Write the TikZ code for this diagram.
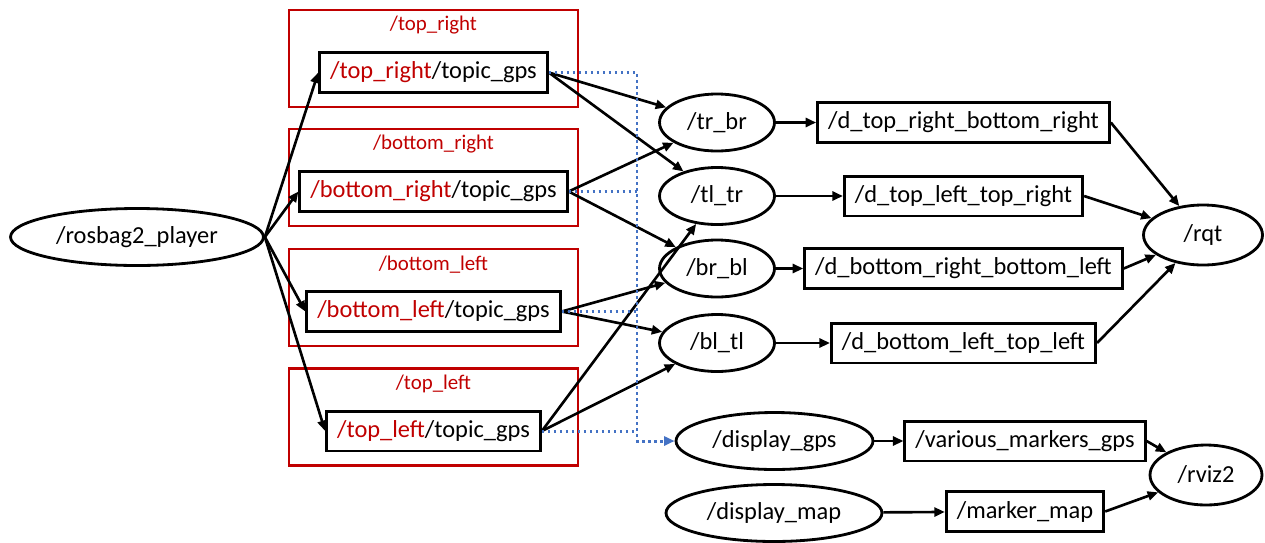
\documentclass[tikz,border=0pt]{standalone}
\usepackage{fontspec}
\setmainfont{Carlito}
\usetikzlibrary{arrows.meta,shapes.geometric}

\definecolor{grpred}{HTML}{C00000}
\definecolor{busblue}{HTML}{4472C4}

\begin{document}
\begin{tikzpicture}[
		x=0.02cm,y=-0.02cm,
		>={Triangle[length=0.21cm,width=0.18cm]},
		font=\fontsize{13.9}{16}\selectfont,
		nodeell/.style={ellipse,draw,line width=1.6pt,minimum height=1.14cm,minimum width=#1,inner sep=0pt},
		nodeell/.default=2.3cm,
		topicbox/.style={rectangle,draw,line width=1.7pt,minimum height=0.8cm,inner xsep=0.21cm,inner ysep=0pt},
		group/.style={rectangle,draw=grpred,line width=1.5pt,minimum width=5.78cm,minimum height=1.94cm},
		grouplabel/.style={text=grpred,font=\fontsize{11.9}{14}\selectfont},
		link/.style={->,line width=1.5pt},
		busline/.style={busblue,line width=1.7pt,dash pattern=on 0.05cm off 0.07cm}]
		
		\useasboundingbox (0,0) rectangle (1265,542);
		
		%player
		\node[nodeell=5.06cm] (bag) at (137,237) {/rosbag2\_player};
		
		%namespaces
		\foreach \grp/\yy/\txt in {TR/58.5/top\_right, BR/177.5/bottom\_right, BL/297.5/bottom\_left, TL/417/top\_left}{
			\node[group] (grp\grp) at (433.5,\yy) {};
			\node[grouplabel] (lbl\grp) at (433.5,\yy-33) {/\txt};
			\node[topicbox] (topic\grp) at (433.5,\yy+14) {\textcolor{grpred}{/\txt}/topic\_gps};
		}
		
		%distance nodes
		\foreach \nm/\yy/\txt/\dtxt in {trbr/122.5/tr\_br/top\_right\_bottom\_right, tltr/196/tl\_tr/top\_left\_top\_right, brbl/268.5/br\_bl/bottom\_right\_bottom\_left, bltl/343/bl\_tl/bottom\_left\_top\_left}{
			\node[nodeell] (\nm) at (717,\yy) {/\txt};
			\node[topicbox] (d\nm) at (963.5,\yy) {/d\_\dtxt};
		}
		
		\node[nodeell=2.38cm,minimum height=1.2cm] (rqt) at (1203,235) {/rqt};
		
		%markers
		\node[nodeell=3.94cm] (dgps) at (774.5,441) {/display\_gps};
		\node[topicbox] (mgps) at (1025,441) {/various\_markers\_gps};
		\node[nodeell=4.32cm] (dmap) at (774,513) {/display\_map};
		\node[topicbox] (mmap) at (1025,511.5) {/marker\_map};
		\node[nodeell=2.24cm,minimum height=1.2cm] (rviz) at (1206,475) {/rviz2};
		
		%verbindungen
		\foreach \grp in {TR,BR,BL,TL}
		\draw[link] (bag.east) -- (topic\grp.west);
		
		\foreach \src/\dst in {TR/trbr, TR/tltr, BR/trbr, BR/brbl, BL/brbl, BL/bltl, TL/tltr, TL/bltl}
		\draw[link] (topic\src.east) -- (\dst);
		
		\foreach \nm in {trbr,tltr,brbl,bltl}{
			\draw[link] (\nm.east) -- (d\nm.west);
			\draw[link] (d\nm.east) -- (rqt);
		}
		
		\draw[link] (dgps) -- (mgps);
		\draw[link] (dmap) -- (mmap);
		\draw[link] (mgps.east) -- (rviz);
		\draw[link] (mmap.east) -- (rviz);
		
		%gps bus
		\coordinate (bus) at (637,441);
		\draw[busline,->] (topicTR.east) -| (bus) -- (dgps.west);
		\foreach \grp in {BR,BL,TL}
		\draw[busline] (topic\grp.east) -- (topic\grp.east -| bus);
		
	\end{tikzpicture}
\end{document}
